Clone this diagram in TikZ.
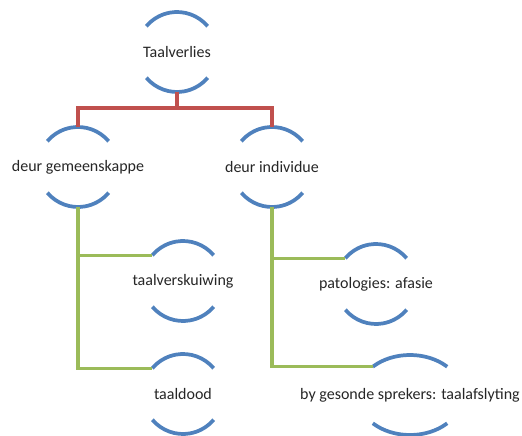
\documentclass[tikz,border=0pt]{standalone}
\usepackage{fontspec}
\setmainfont{Carlito}
\usetikzlibrary{calc}
\definecolor{capblue}{HTML}{4F81BD}
\definecolor{linkred}{HTML}{C0504D}
\definecolor{linkgreen}{HTML}{9BBB59}

\begin{document}
\begin{tikzpicture}[
			x=0.75pt, y=0.75pt,
			every node/.style={font=\fontsize{12}{14}\selectfont, text=black!85},
			arccap/.style={draw=capblue, line width=2.8pt},
			redlink/.style={draw=linkred, line width=2.6pt},
			greenlink/.style={draw=linkgreen, line width=2.6pt}
			]
			\useasboundingbox (0, 0) rectangle (522, 436);
			\node (root) at (177, 384) {Taalverlies};
			\node (gem) at (78, 269) {deur gemeenskappe};
			\node (ind) at (272, 269) {deur individue};
			\node (tv) at (183, 155) {taalverskuiwing};
			\node (td) at (183, 42) {taaldood};
			\node (pa) at (376, 152) {patologies: afasie};
			\node (gs) at (410, 41) {by gesonde sprekers: taalafslyting};
			% the two arcs round every node, plus where the links meet them
			\foreach \n/\ang/\rx in {root/40/40, gem/40/40, ind/40/40, tv/40/40, td/40/40, pa/40/40, gs/45/52.6} {
				\coordinate (\n-top) at ($(\n)+(0, 40)$);
				\coordinate (\n-bot) at ($(\n)+(0, -40)$);
				\coordinate (\n-in) at ($(\n)+({-\rx*cos(\ang)}, {40*sin(\ang)})$);
				\draw[arccap] ($(\n)+({\rx*cos(\ang)}, {40*sin(\ang)})$) arc[start angle=\ang, end angle=180-\ang, x radius=\rx, y radius=40];
				\draw[arccap] ($(\n)+({-\rx*cos(\ang)}, {-40*sin(\ang)})$) arc[start angle=180+\ang, end angle=360-\ang, x radius=\rx, y radius=40];
			}
			\draw[redlink] (root-bot) -- ++(0, -16) -| (gem-top);
			\draw[redlink] (root-bot) -- ++(0, -16) -| (ind-top);
			\draw[greenlink] (gem-bot) |- (tv-in);
			\draw[greenlink] (gem-bot) |- (td-in);
			\draw[greenlink] (ind-bot) |- (pa-in);
			\draw[greenlink] (ind-bot) |- (gs-in);
		\end{tikzpicture}
\end{document}
